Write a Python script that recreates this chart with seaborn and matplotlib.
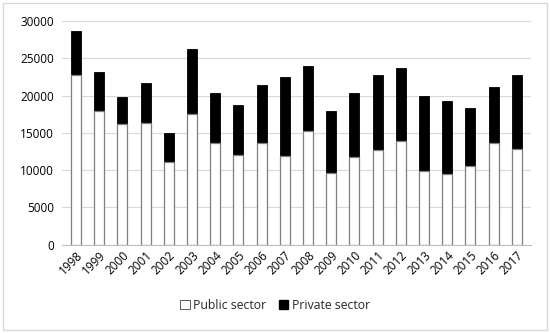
import matplotlib
matplotlib.use("Agg")
import matplotlib.pyplot as plt
import seaborn as sns
import pandas as pd
import numpy as np
from matplotlib.patches import Patch, Rectangle

years = [str(y) for y in range(1998, 2018)]
public = [22700, 17900, 16200, 16300, 11150, 17550, 13700, 12000, 13700, 11950,
          15200, 9650, 11750, 12750, 13900, 9950, 9450, 10550, 13600, 12800]
private = [5900, 5200, 3600, 5350, 3850, 8700, 6600, 6700, 7750, 10500,
           8750, 8250, 8650, 10050, 9750, 10050, 9850, 7750, 7600, 9900]

df = pd.DataFrame({"year": years, "public": public, "private": private})
df["total"] = df["public"] + df["private"]

sns.set_theme(style="white")
plt.rcParams["font.family"] = ["Open Sans", "DejaVu Sans"]

fig = plt.figure(figsize=(5.5, 3.33), dpi=100)
ax = fig.add_axes([0.113, 0.265, 0.852, 0.672])

sns.barplot(data=df, x="year", y="total", color="black", width=0.43,
            edgecolor="black", linewidth=0.6, saturation=1, ax=ax)
sns.barplot(data=df, x="year", y="public", color="white", width=0.43,
            edgecolor="#7f7f7f", linewidth=0.9, saturation=1, ax=ax)

ax.set_ylim(0, 30000)
ax.set_yticks(range(0, 30001, 5000))
ax.set_xlim(-0.6, 19.6)
ax.yaxis.grid(True, color="#d9d9d9", linewidth=0.8)
ax.set_axisbelow(True)
for s in ["top", "right", "left"]:
    ax.spines[s].set_visible(False)
ax.spines["bottom"].set_color("#bfbfbf")
ax.spines["bottom"].set_linewidth(0.8)
ax.set_xlabel("")
ax.set_ylabel("")
ax.tick_params(axis="y", labelsize=8.5, colors="#404040", length=0, pad=6)
ax.tick_params(axis="x", labelsize=8.5, colors="#404040", length=0, pad=3)
for lbl in ax.get_xticklabels():
    lbl.set_rotation(45)
    lbl.set_ha("right")
    lbl.set_rotation_mode("anchor")
for lbl in ax.get_yticklabels():
    lbl.set_color("black")
for lbl in ax.get_xticklabels():
    lbl.set_color("black")

handles = [Patch(facecolor="white", edgecolor="#404040", linewidth=0.6, label="Public sector"),
           Patch(facecolor="black", edgecolor="black", label="Private sector")]
fig.legend(handles=handles, loc="center", bbox_to_anchor=(0.5, 0.083), ncol=2,
           frameon=False, fontsize=8.8, handlelength=0.8, handleheight=0.8,
           handletextpad=0.3, columnspacing=1.0)

fig.patches.append(Rectangle((0.006, 0.01), 0.988, 0.982, transform=fig.transFigure,
                             fill=False, edgecolor="#d9d9d9", linewidth=1.0))

fig.savefig("out.png", dpi=100)
